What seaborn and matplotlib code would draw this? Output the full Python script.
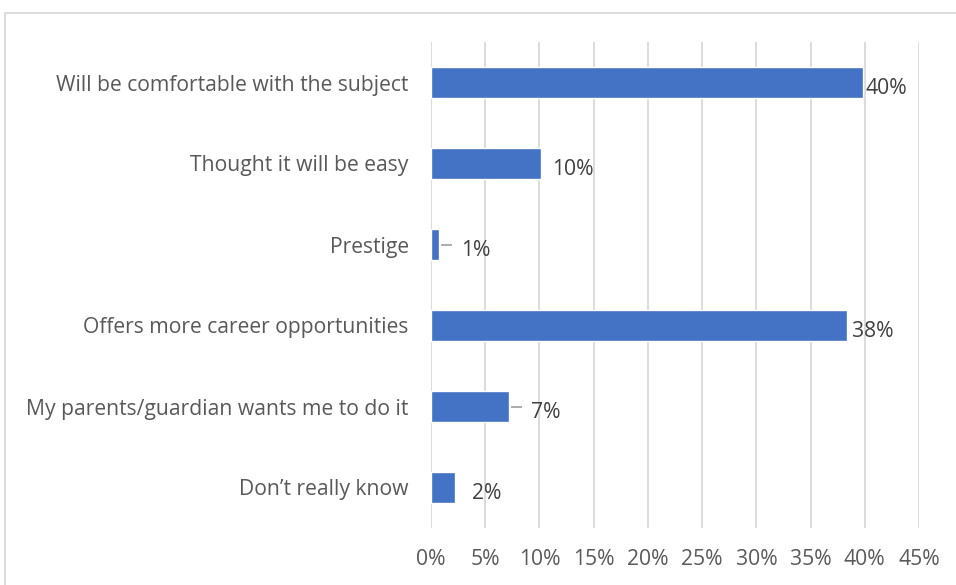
import matplotlib
matplotlib.use("Agg")
import matplotlib.pyplot as plt
from matplotlib.patches import Rectangle
import seaborn as sns
import pandas as pd

reasons = [
    "Will be comfortable with the subject",
    "Thought it will be easy",
    "Prestige",
    "Offers more career opportunities",
    "My parents/guardian wants me to do it",
    "Don\u2019t really know",
]
shares = [39.8, 10.1, 0.7, 38.4, 7.2, 2.2]
share_labels = ["40%", "10%", "1%", "38%", "7%", "2%"]
tick_values = [0, 5, 10, 15, 20, 25, 30, 35, 40, 45]
tick_labels = ["0%", "5%", "10%", "15%", "20%", "25%", "30%", "35%", "40%", "45%"]

df = pd.DataFrame({"reason": reasons, "share": shares})

sns.set_theme(style="white")
plt.rcParams["font.family"] = ["Open Sans", "DejaVu Sans"]

W, H = 956, 585
fig = plt.figure(figsize=(W / 100, H / 100), dpi=100)
ax = fig.add_axes([431 / W, 1 - 528 / H, (919 - 431) / W, (528 - 42) / H])

sns.barplot(data=df, x="share", y="reason", orient="h", color="#4472C4",
            width=0.38, saturation=1, ax=ax, zorder=3)

ax.set_xlim(0, 45)
ax.set_ylim(len(reasons) - 0.5, -0.5)
ax.set_xticks(tick_values)
ax.set_xticklabels(tick_labels)
ax.xaxis.grid(True, color="#D9D9D9", linewidth=1.3, zorder=0)
ax.yaxis.grid(False)
for s in ax.spines.values():
    s.set_visible(False)
ax.tick_params(axis="both", length=0, labelsize=15.2, labelcolor="#595959")
ax.tick_params(axis="y", pad=16)
ax.tick_params(axis="x", pad=15)
ax.set_xlabel("")
ax.set_ylabel("")

# data labels; the narrow bars get a short leader line
label_offsets = [0.3, 1.1, 2.1, 0.4, 2.0, 1.55]
leaders = [False, False, True, False, True, False]
for i, (v, lab, off, lead) in enumerate(zip(shares, share_labels, label_offsets, leaders)):
    tx = v + off
    if lead:
        ax.plot([v + 0.2, tx - 0.85], [i, i], color="#A6A6A6", linewidth=1.3,
                zorder=4, solid_capstyle="butt")
    ax.text(tx, i + 0.07, lab, va="center", ha="left", fontsize=15.2, color="#404040")

# chart frame
fig.patches.append(Rectangle((5 / W, -0.05), 1.0, 1 - 13 / H + 0.05,
                             transform=fig.transFigure, fill=False,
                             edgecolor="#D9D9D9", linewidth=1.3))

fig.savefig("out.png", dpi=100)
